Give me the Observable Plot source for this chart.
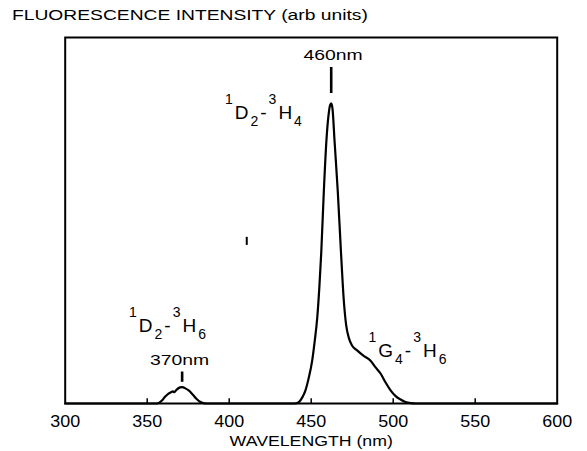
<!DOCTYPE html>
<html><head><meta charset="utf-8">
<script src="https://cdn.jsdelivr.net/npm/d3@7"></script>
<script src="https://cdn.jsdelivr.net/npm/@observablehq/plot@0.6"></script>
<style>
html,body{margin:0;padding:0;background:#fff;overflow:hidden;}
#title{height:30px;position:relative;font-family:"Liberation Sans",Arial,Helvetica,sans-serif;}
#title span{position:absolute;left:12px;top:8px;font-size:14px;line-height:14px;transform:scaleX(1.375);transform-origin:0 0;white-space:nowrap;color:#000;}
</style></head><body>
<div id="title"><span>FLUORESCENCE INTENSITY (arb units)</span></div>
<div id="chart"></div>
<script>
// Spectrum (wavelength in nm, intensity in arbitrary units, 0-100 = full frame height)
const wavelength = [300, 340, 356, 359, 361, 363, 364.5, 365.5, 366.5, 368, 370, 371.5, 373, 375.5, 378, 380, 382.5, 385, 387,
  420, 440, 441.5, 442.5, 444.5, 446.5, 448.5, 450.6, 452, 453.7, 455, 456.1, 457.7, 459.3, 460.5, 461.5, 462.2, 463, 464.2,
  466.2, 468.2, 469.9, 471.3, 472.9, 475, 478, 482, 486.2, 489, 492.3, 495, 498.4, 501.5, 504.5, 507.5, 510.6, 514, 560, 600];
const intensity = [0, 0, 0, 0.8, 1.9, 2.7, 3.1, 3.3, 3.1, 3.8, 4.4, 4.5, 4.2, 3.5, 2.3, 1.3, 0.4, 0.05, 0,
  0, 0, 0.15, 0.4, 1.6, 3.6, 7, 11.7, 16.5, 23.5, 32, 41, 58, 72, 78.5, 81.5, 82, 80.5, 72,
  58, 41, 28, 21.5, 18, 15.8, 14.5, 13, 11.7, 10, 8.2, 6, 3.6, 2.0, 1.1, 0.4, 0.1, 0, 0, 0];

const xTicks = [300, 350, 400, 450, 500, 550, 600];
const innerTicks = [350, 400, 450, 500, 550];
const xLabel = "WAVELENGTH (nm)";

const peakLabels = ["460nm", "370nm"];
const peakLabelWl = [463.3, 369.7];
const peakLabelVal = [95.3, 11.8];
const arrowWl = [462.2, 371.3];
const arrowTop = [91.8, 8.6];
const arrowBottom = [84.7, 5.8];

const transitions = ["^1D_2-^3H_4", "^1D_2-^3H_6", "^1G_4-^3H_6"];
const transitionWl = [397.4, 338.9, 484.9];
const transitionVal = [77.6, 19.4, 12.6];

const speckWl = [410.7];
const speckTop = [45.4];
const speckBottom = [43.2];

const spectrum = wavelength.map((w, i) => ({w, v: intensity[i]}));
const peaks = peakLabels.map((t, i) => ({t, w: peakLabelWl[i], v: peakLabelVal[i]}));
const arrows = arrowWl.map((w, i) => ({w, y1: arrowBottom[i], y2: arrowTop[i]}));
const trans = transitions.map((t, i) => ({t, w: transitionWl[i], v: transitionVal[i]}));
const specks = speckWl.map((w, i) => ({w, y1: speckBottom[i], y2: speckTop[i]}));

const font = "'Liberation Sans', Arial, Helvetica, sans-serif";

const svg = Plot.plot({
  width: 587,
  height: 421,
  marginTop: 7,
  marginBottom: 48,
  marginLeft: 64.7,
  marginRight: 30.3,
  style: {fontFamily: font, fontSize: "16px", color: "#000", background: "#fff", overflow: "visible"},
  x: {domain: [300, 600], ticks: xTicks, tickSize: 0, tickPadding: 12, label: null, tickFormat: d => String(d)},
  y: {domain: [0, 100], axis: null},
  marks: [
    Plot.ruleX(innerTicks, {x: d => d, y1: 0, y2: 1.3, stroke: "#000", strokeWidth: 1.5}),
    Plot.ruleX(specks, {x: "w", y1: "y1", y2: "y2", stroke: "#000", strokeWidth: 2}),
    Plot.line(spectrum, {x: "w", y: "v", curve: "monotone-x", stroke: "#000", strokeWidth: 2.2}),
    Plot.ruleX(arrows, {x: "w", y1: "y1", y2: "y2", stroke: "#000", strokeWidth: 2.6}),
    Plot.text(peaks, {x: "w", y: "v", text: "t", fontSize: 15.5, fill: "#000"}),
    Plot.text(trans, {x: "w", y: "v", text: "t", fontSize: 19, textAnchor: "start", fill: "#000"}),
    Plot.text([xLabel], {frameAnchor: "bottom", lineAnchor: "middle", dy: 37.5, text: d => d, fontSize: 15.4, fill: "#000"}),
    Plot.frame({stroke: "#000", strokeWidth: 2})
  ]
});

// Build superscript/subscript spectroscopic labels
svg.querySelectorAll("text").forEach(t => {
  const s = t.textContent;
  if (s.indexOf("^") < 0) return;
  t.textContent = "";
  t.removeAttribute("y");
  t.removeAttribute("dy");
  t.setAttribute("letter-spacing", "2");
  let cur = 0;
  const re = /([\^_]?)([^\^_])/g;
  let m;
  while ((m = re.exec(s))) {
    const kind = m[1];
    const target = kind === "^" ? -15 : kind === "_" ? 7 : 0;
    const ts = document.createElementNS("http://www.w3.org/2000/svg", "tspan");
    ts.textContent = m[2];
    if (target !== cur) ts.setAttribute("dy", target - cur);
    if (kind) ts.setAttribute("font-size", 14);
    cur = target;
    t.appendChild(ts);
  }
});

// Horizontal stretch of lettering as in the scanned figure
function stretch(t, s) {
  const tr = t.getAttribute("transform") || "";
  const x = t.getAttribute("x");
  if (x !== null && !isNaN(+x)) t.setAttribute("x", (+x) / s);
  t.setAttribute("transform", tr + ` scale(${s},1)`);
}
svg.querySelectorAll("text").forEach(t => {
  const s = t.textContent;
  if (/^\d{3}$/.test(s)) stretch(t, 1.12);
  else if (/^\d+nm$/.test(s)) stretch(t, 1.25);
  else if (s === xLabel) stretch(t, 1.15);
});

document.getElementById("chart").appendChild(svg);
</script>
</body></html>
